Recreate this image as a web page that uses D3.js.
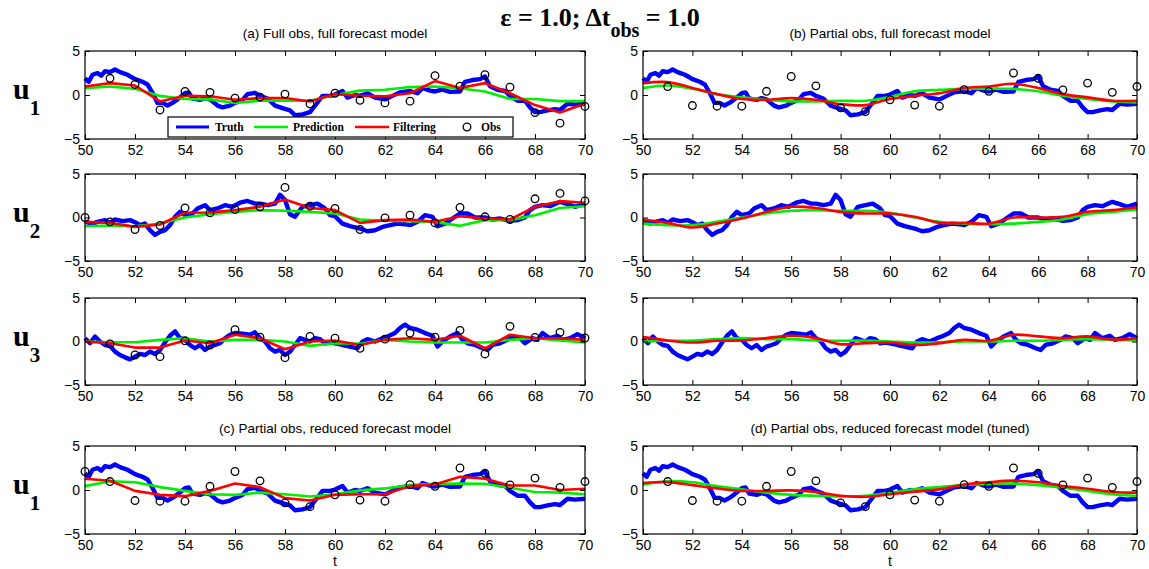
<!DOCTYPE html>
<html>
<head>
<meta charset="utf-8">
<script src="https://cdn.jsdelivr.net/npm/d3@7"></script>
<style>
  body { margin: 0; background: #fff; }
  svg { display: block; }
</style>
</head>
<body>
<svg id="fig" width="1149" height="569"></svg>
<script>
// ---------- data ----------
const xTicks = [50, 52, 54, 56, 58, 60, 62, 64, 66, 68, 70];
const yTicks = [-5, 0, 5];
const obsTimes = [50, 51, 52, 53, 54, 55, 56, 57, 58, 59, 60, 61, 62, 63, 64, 65, 66, 67, 68, 69, 70];

// true signal, [t, value]
const truthU1 = [[50.0,1.9],[50.15,1.5],[50.3,2.3],[50.5,2.5],[50.65,2.2],[50.8,2.7],[51.0,2.6],[51.2,2.9],[51.4,2.6],[51.7,2.3],
  [52.0,1.8],[52.3,1.5],[52.5,1.2],[52.7,0.25],[52.9,-0.9],[53.1,-0.9],[53.3,-1.2],[53.5,-0.9],[53.7,-0.5],[54.0,0.2],[54.15,0.3],
  [54.3,-0.4],[54.6,-0.55],[54.8,-0.35],[55.0,-0.5],[55.3,-1.2],[55.5,-1.4],[55.8,-1.2],[56.0,-0.9],[56.3,-0.55],[56.5,0.1],
  [56.8,0.25],[57.0,-0.1],[57.3,-0.4],[57.6,-1.2],[57.9,-1.5],[58.2,-1.75],[58.4,-2.3],[58.7,-2.2],[59.0,-1.95],[59.3,-0.85],
  [59.5,-0.1],[59.8,-0.1],[60.0,0.05],[60.3,0.45],[60.5,-0.3],[60.8,0.0],[61.0,-0.1],[61.3,0.2],[61.6,-0.3],[62.0,-0.5],
  [62.3,-0.1],[62.6,0.3],[63.0,0.45],[63.3,0.2],[63.5,0.8],[63.8,0.5],[64.0,0.4],[64.3,0.6],[64.6,0.35],[65.0,0.4],[65.2,1.5],
  [65.5,1.7],[65.8,1.8],[66.0,2.1],[66.2,1.0],[66.5,0.6],[66.8,0.45],[67.0,-0.1],[67.3,-0.65],[67.6,-0.65],[67.8,-1.4],
  [68.0,-1.95],[68.2,-1.95],[68.5,-1.75],[68.8,-1.6],[69.0,-1.7],[69.3,-1.0],[69.6,-1.1],[70.0,-1.0]];

const truthU2 = [[50.0,-0.5],[50.3,-0.7],[50.5,-0.5],[50.8,-0.3],[51.0,-0.6],[51.2,-0.23],[51.5,-0.42],[51.8,-0.3],[52.0,-0.54],
  [52.2,-0.88],[52.4,-0.7],[52.6,-1.46],[52.8,-2.0],[53.0,-1.65],[53.2,-1.46],[53.4,-0.88],[53.6,0.08],[53.8,0.65],[54.0,0.27],
  [54.3,0.46],[54.5,1.04],[54.8,1.42],[55.0,0.85],[55.3,1.04],[55.6,1.42],[55.9,1.23],[56.2,1.7],[56.5,1.9],[56.8,1.6],
  [57.0,1.6],[57.3,1.42],[57.6,1.6],[57.8,2.6],[58.0,2.0],[58.2,0.38],[58.4,0.08],[58.7,1.23],[59.0,1.42],[59.3,1.6],
  [59.6,1.04],[59.8,0.27],[60.0,0.15],[60.3,-0.7],[60.6,-1.0],[61.0,-1.27],[61.3,-1.58],[61.6,-1.46],[61.9,-1.08],[62.2,-0.88],
  [62.5,-0.7],[62.8,-0.77],[63.0,-0.88],[63.3,-0.5],[63.6,0.27],[63.9,0.08],[64.1,-1.0],[64.4,-0.7],[64.7,-0.12],[65.0,0.46],
  [65.3,0.46],[65.6,0.0],[66.0,0.0],[66.3,-0.23],[66.6,-0.12],[67.0,-0.38],[67.3,-0.3],[67.6,0.0],[67.8,0.85],[68.0,1.23],
  [68.3,1.42],[68.6,1.3],[69.0,1.8],[69.3,1.54],[69.6,1.23],[70.0,1.6]];

const truthU3 = [[50.0,0.38],[50.2,-0.2],[50.4,0.58],[50.6,0.0],[50.8,-0.4],[51.0,-0.5],[51.2,-1.16],[51.4,-1.55],[51.6,-1.82],
  [51.8,-2.05],[52.0,-1.74],[52.2,-1.43],[52.4,-1.55],[52.6,-1.16],[52.8,-1.43],[53.0,-0.97],[53.2,-0.12],[53.4,0.66],
  [53.6,1.16],[53.8,0.38],[54.0,0.19],[54.2,-0.4],[54.4,-0.78],[54.6,-0.4],[54.8,-0.97],[55.0,-0.58],[55.2,-0.4],[55.4,-0.2],
  [55.6,0.38],[55.8,0.78],[56.0,0.97],[56.3,0.9],[56.6,0.78],[56.8,1.05],[57.0,0.38],[57.2,0.0],[57.4,-0.78],[57.6,-1.16],
  [57.8,-0.97],[58.0,-1.55],[58.2,-1.16],[58.4,-0.4],[58.6,0.38],[58.8,0.19],[59.0,0.0],[59.2,0.38],[59.4,0.27],[59.6,-0.2],
  [59.8,-0.12],[60.0,-0.2],[60.3,-0.4],[60.6,-0.58],[60.9,-0.78],[61.1,0.0],[61.3,0.27],[61.6,0.0],[61.9,0.38],[62.1,0.58],
  [62.4,0.97],[62.6,1.55],[62.8,1.94],[63.0,1.55],[63.3,1.36],[63.6,0.97],[63.9,0.66],[64.1,-0.58],[64.3,0.0],[64.6,0.58],
  [64.9,0.97],[65.1,0.19],[65.3,-0.2],[65.6,-0.4],[65.9,-0.78],[66.1,-0.97],[66.3,-0.4],[66.6,-0.2],[66.9,0.19],[67.1,0.58],
  [67.4,0.38],[67.6,-0.2],[67.9,0.38],[68.1,0.19],[68.3,0.97],[68.6,0.38],[68.9,0.66],[69.1,0.19],[69.4,0.38],[69.7,0.85],[70.0,0.38]];

// observations at obsTimes (null = none)
const obsFullU1 = [null,1.9,1.2,-1.7,0.4,0.3,-0.35,-0.25,0.1,-1.0,0.2,-0.6,-0.9,-0.7,2.2,1.0,2.3,0.9,-2.0,-3.2,-1.3];
const obsFullU2 = [0.0,-0.5,-1.38,-0.92,1.1,0.54,0.92,1.23,3.46,1.3,1.04,-1.38,-0.04,0.27,-0.62,1.15,0.08,-0.23,2.15,2.77,1.9];
const obsFullU3 = [null,-0.27,-1.55,-1.74,0.08,-0.4,1.36,0.5,-1.86,0.58,0.38,-0.78,0.27,0.97,0.5,1.28,-1.43,1.74,0.47,1.05,0.4];
const obsPartialU1 = [2.1,0.96,-1.2,-1.27,-1.27,0.42,2.1,1.04,-1.46,-1.9,-0.54,-1.15,-1.27,0.6,0.42,2.5,1.9,0.58,1.35,0.3,0.96];

// (a) full obs, full forecast model
const predA_U1 = [0.77,0.96,0.7,-0.1,-0.45,-0.5,-0.9,-0.65,-0.65,-0.65,0.0,0.5,0.6,0.9,0.96,0.77,0.4,-0.45,-0.45,-0.7,-0.7];
const filtA_U1 = [0.96,1.35,1.08,-0.73,-0.08,-0.15,-0.54,-0.35,-0.35,-0.73,0.1,-0.08,-0.15,0.2,1.58,0.8,1.35,0.2,-1.15,-2.0,-1.0];
const predA_U2 = [-1.0,-0.92,-1.0,-0.7,0.0,0.38,0.65,0.85,0.77,0.65,0.46,-0.23,-0.38,-0.42,-0.5,-0.96,-0.3,-0.3,0.27,1.1,1.3];
const filtA_U2 = [-0.5,-0.62,-1.08,-0.8,0.54,0.58,0.85,1.23,2.08,1.1,0.85,-0.62,-0.3,-0.23,-0.5,0.15,-0.12,-0.23,1.23,1.88,1.7];
const predA_U3 = [0.0,-0.08,-0.08,0.19,0.38,0.0,0.19,0.19,0.0,-0.5,-0.2,-0.27,0.19,0.0,-0.12,-0.12,-0.12,0.19,0.38,0.12,-0.12];
const filtA_U3 = [0.0,-0.2,-0.7,-0.7,0.12,-0.2,0.78,0.38,-0.89,0.0,0.12,-0.4,0.19,0.38,0.19,0.66,-0.78,0.78,0.38,0.38,0.19];

// (b) partial obs, full forecast model
const predB_U1 = [0.8,1.08,0.7,0.1,-0.27,-0.54,-0.73,-0.73,-0.65,-0.65,-0.2,0.42,0.58,0.7,0.7,0.7,0.42,-0.08,-0.46,-0.73,-0.85];
const filtB_U1 = [1.35,1.46,0.8,0.1,-0.46,-0.54,-0.35,-0.54,-1.04,-1.15,-0.46,-0.08,0.2,0.8,0.96,1.27,0.8,0.1,-0.27,-0.65,-0.65];
const predB_U2 = [-0.7,-0.88,-0.88,-0.5,0.0,0.46,0.77,0.85,0.77,0.77,0.54,0.0,-0.5,-0.7,-0.77,-0.7,-0.5,-0.23,0.38,0.65,0.92];
const filtB_U2 = [-0.23,-0.62,-1.15,-0.7,-0.12,0.65,1.23,1.1,0.65,0.46,0.46,0.08,-0.62,-0.62,-0.7,0.0,0.0,0.08,0.65,0.85,1.15];
const predB_U3 = [0.0,0.08,0.12,0.27,0.39,0.27,0.27,0.12,0.08,0.12,0.0,-0.12,-0.08,0.0,0.0,0.08,0.08,0.2,0.27,0.2,0.12];
const filtB_U3 = [0.5,0.12,-0.12,0.08,0.12,0.39,0.66,0.39,-0.31,-0.2,-0.12,-0.39,-0.2,0.2,0.08,0.78,0.59,0.39,0.59,0.2,0.39];

// (c) partial obs, reduced forecast model
const predC_U1 = [0.44,1.0,0.88,0.33,-0.1,-0.48,-0.55,-0.3,-0.48,-0.73,-0.48,-0.04,0.18,0.55,0.7,0.73,0.7,0.26,-0.22,-0.3,-0.48];
const filtC_U1 = [1.28,1.06,-0.1,-0.55,-0.7,-0.1,0.73,0.33,-0.92,-1.2,-0.55,-0.48,-0.48,0.44,0.62,1.5,1.28,0.51,0.51,0.0,0.15];

// (d) partial obs, reduced forecast model (tuned)
const predD_U1 = [0.6,1.0,0.88,0.44,0.07,-0.3,-0.55,-0.66,-0.73,-0.66,-0.3,0.07,0.33,0.55,0.7,0.73,0.55,0.26,-0.1,-0.48,-0.66];
const filtD_U1 = [0.8,0.9,0.55,0.18,-0.1,-0.1,-0.04,-0.22,-0.66,-0.77,-0.48,-0.18,0.07,0.62,0.88,1.06,0.88,0.44,0.15,-0.22,-0.3];

const panelTitles = ["(a)  Full obs, full forecast model", "(b)  Partial obs, full forecast model",
  "(c)  Partial obs, reduced forecast model", "(d)  Partial obs, reduced forecast model (tuned)"];
const legendLabels = ["Truth", "Prediction", "Filtering", "Obs"];

// ---------- layout ----------
const cols = [{ left: 85, width: 500 }, { left: 643, width: 494 }];
const rows = [{ top: 51, height: 88 }, { top: 174, height: 87 }, { top: 298, height: 87 }, { top: 446, height: 88 }];
const C = { truth: "#0000ff", pred: "#00ee00", filt: "#ff0000" };
const sansFont = "'Liberation Sans', Arial, Helvetica, sans-serif";
const serifFont = "'Liberation Serif', 'Times New Roman', Times, serif";

const svg = d3.select("#fig");
svg.append("rect").attr("width", 1149).attr("height", 569).attr("fill", "#fff");

const zip = (vals, keepFirst = true) =>
  obsTimes.map((t, i) => [t, vals[i]]).filter((d, i) => d[1] !== null && (keepFirst || i > 0));

const panels = [
  { col: 0, row: 0, truth: truthU1, pred: predA_U1, filt: filtA_U1, obs: zip(obsFullU1), smooth: false, title: panelTitles[0], legend: true },
  { col: 0, row: 1, truth: truthU2, pred: predA_U2, filt: filtA_U2, obs: zip(obsFullU2), smooth: false },
  { col: 0, row: 2, truth: truthU3, pred: predA_U3, filt: filtA_U3, obs: zip(obsFullU3), smooth: false },
  { col: 1, row: 0, truth: truthU1, pred: predB_U1, filt: filtB_U1, obs: zip(obsPartialU1, false), smooth: true, title: panelTitles[1] },
  { col: 1, row: 1, truth: truthU2, pred: predB_U2, filt: filtB_U2, obs: [], smooth: true },
  { col: 1, row: 2, truth: truthU3, pred: predB_U3, filt: filtB_U3, obs: [], smooth: true },
  { col: 0, row: 3, truth: truthU1, pred: predC_U1, filt: filtC_U1, obs: zip(obsPartialU1), smooth: false, title: panelTitles[2], xlabel: true },
  { col: 1, row: 3, truth: truthU1, pred: predD_U1, filt: filtD_U1, obs: zip(obsPartialU1, false), smooth: true, title: panelTitles[3], xlabel: true }
];

const fmtY = d => d < 0 ? "\u2212" + Math.abs(d) : String(d);

function drawPanel(p) {
  const { left, width } = cols[p.col];
  const { top, height } = rows[p.row];
  const x = d3.scaleLinear().domain([50, 70]).range([left, left + width]);
  const y = d3.scaleLinear().domain([-5, 5]).range([top + height, top]);
  const g = svg.append("g");

  const truthLine = d3.line().x(d => x(d[0])).y(d => y(d[1]));
  const estLine = d3.line().x(d => x(d[0])).y(d => y(d[1]))
    .curve(p.smooth ? d3.curveCatmullRom.alpha(0.5) : d3.curveLinear);

  // the true signal is drawn as a heavy trace
  g.append("path").attr("d", truthLine(p.truth)).attr("fill", "none")
    .attr("stroke", C.truth).attr("stroke-width", 4.4).attr("stroke-linejoin", "round");
  g.append("path").attr("d", estLine(zip(p.pred))).attr("fill", "none")
    .attr("stroke", C.pred).attr("stroke-width", 2.6).attr("stroke-linejoin", "round");
  g.append("path").attr("d", estLine(zip(p.filt))).attr("fill", "none")
    .attr("stroke", C.filt).attr("stroke-width", 2.6).attr("stroke-linejoin", "round");
  g.selectAll("circle.obs").data(p.obs).join("circle").attr("class", "obs")
    .attr("cx", d => x(d[0])).attr("cy", d => y(d[1])).attr("r", 3.8)
    .attr("fill", "none").attr("stroke", "#000").attr("stroke-width", 1.3);

  // axes: ticks point inward on all four sides
  const bottom = g.append("g").attr("transform", `translate(0,${top + height})`)
    .call(d3.axisBottom(x).tickValues(xTicks).tickSizeInner(-5).tickSizeOuter(0).tickPadding(6));
  const topAx = g.append("g").attr("transform", `translate(0,${top})`)
    .call(d3.axisTop(x).tickValues(xTicks).tickSizeInner(-5).tickSizeOuter(0).tickFormat(""));
  const leftAx = g.append("g").attr("transform", `translate(${left},0)`)
    .call(d3.axisLeft(y).tickValues(yTicks).tickSizeInner(-5).tickSizeOuter(0).tickPadding(5).tickFormat(fmtY));
  const rightAx = g.append("g").attr("transform", `translate(${left + width},0)`)
    .call(d3.axisRight(y).tickValues(yTicks).tickSizeInner(-5).tickSizeOuter(0).tickFormat(""));
  [bottom, topAx, leftAx, rightAx].forEach(a => {
    a.select(".domain").remove();
    a.selectAll("line").attr("stroke", "#000").attr("stroke-width", 1);
    a.selectAll("text").attr("font-family", sansFont).attr("font-size", 14).attr("fill", "#000");
  });

  g.append("rect").attr("x", left).attr("y", top).attr("width", width).attr("height", height)
    .attr("fill", "none").attr("stroke", "#000").attr("stroke-width", 1.2);

  if (p.title) {
    g.append("text").attr("x", left + width / 2).attr("y", top - 13)
      .attr("text-anchor", "middle").attr("font-family", sansFont).attr("font-size", 13.5)
      .text(p.title);
  }
  if (p.xlabel) {
    g.append("text").attr("x", left + width / 2).attr("y", 566)
      .attr("text-anchor", "middle").attr("font-family", sansFont).attr("font-size", 14).text("t");
  }
  if (p.legend) drawLegend(g);
}

function drawLegend(g) {
  const lx = 168, ly = 117, lw = 345, lh = 20;
  const lg = g.append("g");
  lg.append("rect").attr("x", lx).attr("y", ly).attr("width", lw).attr("height", lh)
    .attr("fill", "#fff").attr("stroke", "#000").attr("stroke-width", 1.2);
  const cy = ly + lh / 2;
  const items = [
    { kind: "line", color: C.truth, x0: 176, x1: 209, tx: 215, label: legendLabels[0], w: 3.2 },
    { kind: "line", color: C.pred, x0: 254, x1: 288, tx: 293, label: legendLabels[1], w: 2.6 },
    { kind: "line", color: C.filt, x0: 355, x1: 389, tx: 393, label: legendLabels[2], w: 2.6 },
    { kind: "dot", x0: 467, tx: 481, label: legendLabels[3] }
  ];
  items.forEach(it => {
    if (it.kind === "line") {
      lg.append("line").attr("x1", it.x0).attr("x2", it.x1).attr("y1", cy).attr("y2", cy)
        .attr("stroke", it.color).attr("stroke-width", it.w);
    } else {
      lg.append("circle").attr("cx", it.x0).attr("cy", cy).attr("r", 3.8)
        .attr("fill", "none").attr("stroke", "#000").attr("stroke-width", 1.3);
    }
    lg.append("text").attr("x", it.tx).attr("y", cy + 4).attr("font-family", serifFont)
      .attr("font-weight", "bold").attr("font-size", 11.5).text(it.label);
  });
}

panels.forEach(drawPanel);

// row labels u1, u2, u3, u1
const rowLabelSubs = ["1", "2", "3", "1"];
rows.forEach((r, i) => {
  const cy = r.top + r.height / 2;
  const t = svg.append("text").attr("x", 13).attr("y", cy + 4)
    .attr("font-family", serifFont).attr("font-weight", "bold").attr("font-size", 30);
  t.append("tspan").text("u");
  t.append("tspan").attr("dy", 16).attr("font-size", 21).text(rowLabelSubs[i]);
});

// overall title
const title = svg.append("text").attr("x", 600).attr("y", 26).attr("text-anchor", "middle")
  .attr("font-family", serifFont).attr("font-weight", "bold").attr("font-size", 26);
title.append("tspan").text("\u03b5 = 1.0; \u0394t");
title.append("tspan").attr("dy", 11).attr("font-size", 20).text("obs");
title.append("tspan").attr("dy", -11).text(" = 1.0");
</script>
</body>
</html>
